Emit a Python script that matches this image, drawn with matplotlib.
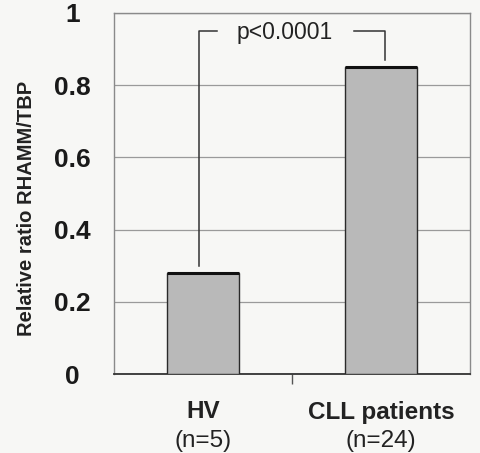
import numpy as np
import matplotlib.pyplot as plt
from matplotlib.transforms import blended_transform_factory

groups = ['HV', 'CLL patients']
group_n = ['(n=5)', '(n=24)']
ratio = [0.28, 0.85]
p_text = 'p<0.0001'
yticks = [0, 0.2, 0.4, 0.6, 0.8, 1]
ytick_labels = ['0', '0.2', '0.4', '0.6', '0.8', '1']

plt.rcParams['font.family'] = ['Liberation Sans', 'DejaVu Sans']

fig = plt.figure(figsize=(4.81, 4.53), dpi=100, facecolor='#f7f7f5')
ax = fig.add_axes([114 / 481, 1 - 374 / 453, 356 / 481, 361 / 453])
ax.set_facecolor('#f7f7f5')

x = np.arange(len(groups))
bars = ax.bar(x, ratio, width=0.4, color='#b9b9b9', edgecolor='#2a2a2a',
              linewidth=1.0, zorder=3)
# dark top edge of each bar
for xi, v in zip(x, ratio):
    ax.plot([xi - 0.2, xi + 0.2], [v, v], color='#111111', lw=2.2, zorder=4,
            solid_capstyle='butt')

ax.set_xlim(-0.5, 1.5)
ax.set_ylim(0, 1)
ax.set_yticks(yticks)
ax.set_yticklabels(ytick_labels, fontsize=19, fontweight='bold', ha='center',
                   color='#1a1a1a')
ax.tick_params(axis='y', length=0, pad=30)
ax.yaxis.grid(True, color='#9a9a9a', lw=0.9)
ax.set_axisbelow(True)

# tick between categories
ax.set_xticks([0.5])
ax.set_xticklabels([''])
ax.tick_params(axis='x', length=7, width=1, color='#555555', direction='out')

for side in ['top', 'right', 'left']:
    ax.spines[side].set_color('#8a8a8a')
    ax.spines[side].set_linewidth(1.0)
ax.spines['bottom'].set_color('#333333')
ax.spines['bottom'].set_linewidth(1.3)

tr = blended_transform_factory(ax.transData, fig.transFigure)
for xi, name, n in zip(x, groups, group_n):
    ax.text(xi, 1 - 412 / 453, name, transform=tr, ha='center', va='center',
            fontsize=17.5, fontweight='bold', color='#222222')
    ax.text(xi, 1 - 441 / 453, n, transform=tr, ha='center', va='center',
            fontsize=17.5, color='#222222')

ax.set_ylabel('Relative ratio RHAMM/TBP', fontsize=14.5, fontweight='bold',
              color='#222222')
ax.yaxis.set_label_coords(-0.22, 0.46)

# significance bracket
yb = 0.95
ax.plot([-0.02, -0.02, 0.08], [ratio[0] + 0.02, yb, yb], color='#333333', lw=1.1)
ax.plot([0.85, 1.02, 1.02], [yb, yb, ratio[1] + 0.02], color='#333333', lw=1.1)
ax.text(0.46, yb - 0.005, p_text, ha='center', va='center', fontsize=16.5,
        color='#222222')

fig.savefig('out.png', dpi=100, facecolor=fig.get_facecolor())
